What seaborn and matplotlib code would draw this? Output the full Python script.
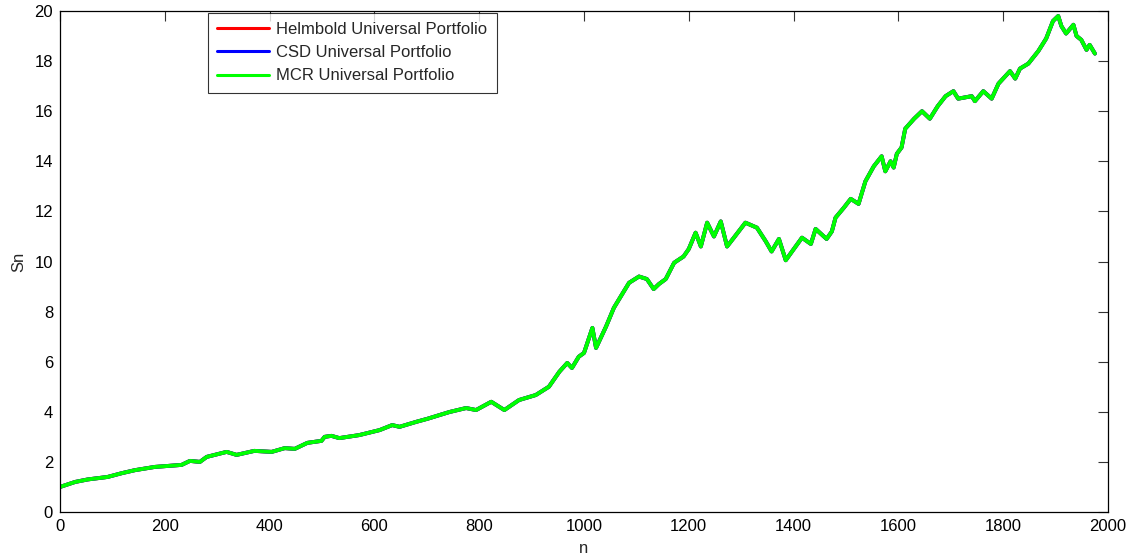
import matplotlib
matplotlib.use("Agg")
import matplotlib.pyplot as plt
import seaborn as sns
import pandas as pd

# ---- data ----
n_values = [0, 29, 53, 91, 118, 143, 181, 213, 232, 248, 267, 280, 318, 337, 371, 404, 429, 448,
            472, 499, 505, 518, 533, 571, 610, 634, 648, 680, 701, 743, 775, 794, 823, 848, 876,
            908, 933, 953, 968, 977, 990, 1000, 1016, 1023, 1042, 1057, 1070, 1086, 1105, 1120,
            1133, 1143, 1156, 1172, 1190, 1200, 1213, 1223, 1235, 1248, 1261, 1273, 1286, 1308,
            1330, 1347, 1358, 1372, 1385, 1397, 1416, 1433, 1442, 1463, 1473, 1480, 1496, 1509,
            1524, 1537, 1553, 1568, 1575, 1585, 1591, 1597, 1606, 1613, 1630, 1645, 1660, 1675,
            1690, 1705, 1714, 1740, 1746, 1762, 1778, 1791, 1813, 1823, 1832, 1848, 1867, 1882,
            1895, 1905, 1911, 1920, 1934, 1940, 1949, 1959, 1965, 1975]
sn_values = [1.0, 1.2, 1.3, 1.4, 1.55, 1.67, 1.8, 1.85, 1.88, 2.04, 2.0, 2.2, 2.4, 2.28, 2.44, 2.4,
             2.55, 2.52, 2.76, 2.84, 3.0, 3.04, 2.95, 3.07, 3.27, 3.47, 3.4, 3.6, 3.72, 3.99, 4.15,
             4.07, 4.4, 4.07, 4.47, 4.67, 5.0, 5.6, 5.95, 5.75, 6.2, 6.35, 7.35, 6.55, 7.4, 8.15,
             8.6, 9.15, 9.4, 9.3, 8.9, 9.1, 9.3, 9.95, 10.2, 10.5, 11.15, 10.6, 11.55, 11.0, 11.6,
             10.6, 10.95, 11.55, 11.35, 10.8, 10.4, 10.9, 10.05, 10.4, 10.95, 10.7, 11.3, 10.9,
             11.2, 11.75, 12.15, 12.5, 12.3, 13.2, 13.8, 14.2, 13.6, 14.0, 13.75, 14.3, 14.55,
             15.3, 15.7, 16.0, 15.7, 16.2, 16.6, 16.8, 16.5, 16.6, 16.4, 16.8, 16.5, 17.1, 17.6,
             17.3, 17.7, 17.9, 18.4, 18.9, 19.6, 19.8, 19.4, 19.1, 19.45, 19.0, 18.85, 18.45,
             18.65, 18.3]
series_names = ["Helmbold Universal Portfolio", "CSD Universal Portfolio", "MCR Universal Portfolio"]
series_colors = ["#ff0000", "#0000ff", "#00ff00"]
x_ticks = [0, 200, 400, 600, 800, 1000, 1200, 1400, 1600, 1800, 2000]
y_ticks = [0, 2, 4, 6, 8, 10, 12, 14, 16, 18, 20]

# the three portfolios are visually indistinguishable in the reference
frames = []
for name in series_names:
    frames.append(pd.DataFrame({"n": n_values, "Sn": sn_values, "series": name}))
df = pd.concat(frames, ignore_index=True)

sns.set_style("white")
plt.rcParams["font.family"] = ["Liberation Sans", "DejaVu Sans"]
plt.rcParams["font.size"] = 12

fig = plt.figure(figsize=(11.4, 5.6), dpi=100)
ax = fig.add_axes([60 / 1140, 1 - 512 / 560, 1048 / 1140, 501 / 560])

sns.lineplot(data=df, x="n", y="Sn", hue="series", hue_order=series_names,
             palette=series_colors, linewidth=2.8, ax=ax, estimator=None, sort=False)

ax.set_xlim(0, 2000)
ax.set_ylim(0, 20)
ax.set_xticks(x_ticks)
ax.set_yticks(y_ticks)
ax.set_xlabel("n", fontsize=12, labelpad=5)
ax.set_ylabel("Sn", fontsize=12, labelpad=6)
ax.tick_params(direction="in", length=7, width=0.8, color="#333333", labelsize=12,
               top=True, right=True, pad=5, labelcolor="black")
for sp in ax.spines.values():
    sp.set_color("black")
    sp.set_linewidth(0.9)
    sp.set_visible(True)

leg = ax.legend(loc="upper left", bbox_to_anchor=(148 / 1048, 0.997), borderaxespad=0,
                frameon=True, fancybox=False, edgecolor="black", fontsize=12,
                handlelength=3.1, handletextpad=0.45, labelspacing=0.5, borderpad=0.55)
leg.get_frame().set_linewidth(0.8)
for line in leg.get_lines():
    line.set_linewidth(2.2)

fig.savefig("out.png", dpi=100, facecolor="white")
